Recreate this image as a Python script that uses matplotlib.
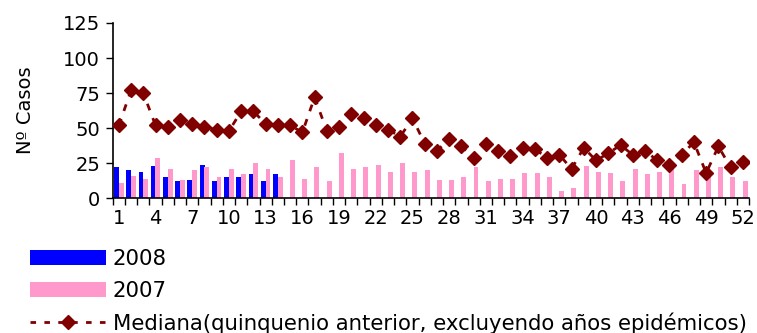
import matplotlib
matplotlib.use("Agg")
import matplotlib.pyplot as plt
import numpy as np
from matplotlib.lines import Line2D
from matplotlib.patches import Patch

weeks = list(range(1, 53))
cases_2008 = [22, 20, 19, 23, 15, 12, 13, 24, 12, 15, 15, 17, 12, 17]
cases_2007 = [11, 16, 14, 29, 21, 13, 20, 22, 15, 21, 17, 25, 21, 15, 27, 14,
              22, 12, 32, 21, 22, 24, 19, 25, 19, 20, 13, 13, 15, 22, 12, 14,
              14, 18, 18, 15, 5, 7, 23, 19, 18, 12, 21, 17, 19, 21, 10, 20,
              18, 22, 15, 12]
median_prev = [52, 77, 75, 52, 51, 56, 53, 51, 49, 48, 62, 62, 53, 52, 52, 47,
               72, 48, 51, 60, 57, 52, 49, 44, 57, 39, 34, 42, 37, 29, 39, 34,
               30, 36, 35, 29, 31, 21, 36, 27, 32, 38, 31, 34, 27, 24, 31, 40,
               18, 37, 22, 26]
y_ticks = [0, 25, 50, 75, 100, 125]
x_labels = list(range(1, 53, 3))

plt.rcParams['font.family'] = ['DejaVu Sans']

fig = plt.figure(figsize=(7.57, 3.33), dpi=100)
ax = fig.add_axes([0.1489, 0.4045, 0.8405, 0.5265])

w = np.array(weeks)
bw = 0.4
ax.bar(w[:len(cases_2008)] - 0.19, cases_2008, width=bw, color='#0000FF', zorder=2)
ax.bar(w + 0.19, cases_2007, width=bw, color='#FF99CC', zorder=2)
ax.plot(w, median_prev, color='#800000', linestyle=(0, (2.5, 3)), linewidth=2,
        marker='D', markersize=7.3, zorder=3)

ax.set_xlim(0.5, 52.5)
ax.set_ylim(0, 125)
ax.set_yticks(y_ticks)
ax.set_yticklabels([str(v) for v in y_ticks], fontsize=14)
ax.set_xticks(x_labels)
ax.set_xticklabels([str(v) for v in x_labels], fontsize=14)
ax.set_xticks(np.arange(0.5, 53, 1), minor=True)
ax.tick_params(axis='x', which='major', length=0, pad=8)
ax.tick_params(axis='x', which='minor', length=5, width=1, direction='out', color='black')
ax.tick_params(axis='y', length=5, width=1, direction='out', pad=4)
for s in ['top', 'right']:
    ax.spines[s].set_visible(False)
ax.spines['left'].set_linewidth(1.2)
ax.spines['bottom'].set_linewidth(1.2)
ax.set_ylabel('Nº Casos', fontsize=14, labelpad=20)

handles = [Patch(facecolor='#0000FF'), Patch(facecolor='#FF99CC'),
           Line2D([0], [0], color='#800000', linestyle=(0, (2, 3)), linewidth=2,
                  marker='D', markersize=7)]
labels = ['2008', '2007', 'Mediana(quinquenio anterior, excluyendo años epidémicos)']
fig.legend(handles, labels, loc='upper left', bbox_to_anchor=(0.0396, 0.2525),
           frameon=False, fontsize=15.3, handlelength=3.6, handleheight=0.72,
           handletextpad=0.3, labelspacing=0.55, borderaxespad=0, borderpad=0)

fig.savefig('out.png', dpi=100)
